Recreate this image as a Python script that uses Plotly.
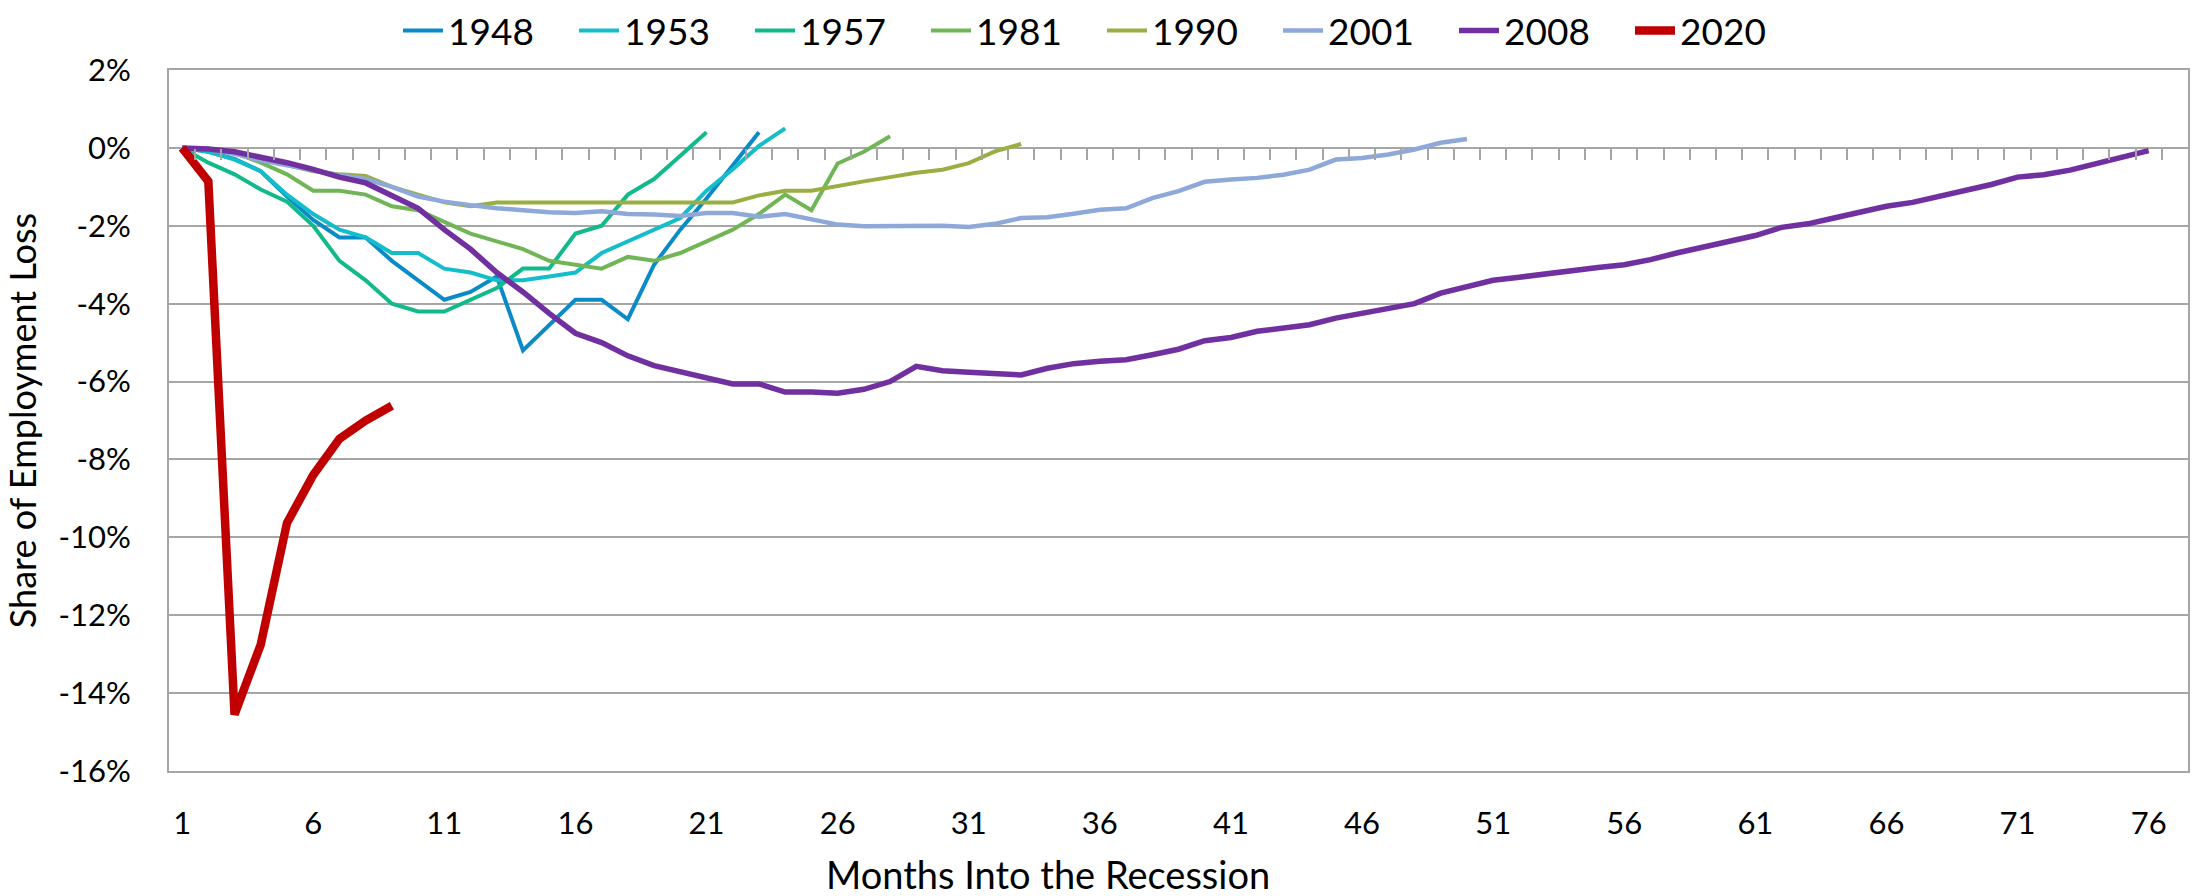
import plotly.graph_objects as go

# share of employment loss (%) by month into the recession
months = list(range(1, 78))

y1948 = [0, -0.1, -0.28, -0.6, -1.25, -1.85, -2.3, -2.3, -2.9, -3.4, -3.9, -3.7, -3.3,
         -5.2, -4.55, -3.9, -3.9, -4.4, -3.0, -2.1, -1.3, -0.45, 0.4]
y1953 = [0, -0.1, -0.3, -0.6, -1.2, -1.7, -2.1, -2.3, -2.7, -2.7, -3.1, -3.2, -3.4,
         -3.4, -3.3, -3.2, -2.7, -2.4, -2.1, -1.8, -1.1, -0.55, 0.05, 0.5]
y1957 = [0, -0.38, -0.68, -1.07, -1.38, -2.0, -2.9, -3.4, -4.0, -4.2, -4.2, -3.9, -3.6,
         -3.1, -3.1, -2.2, -2.0, -1.2, -0.8, -0.2, 0.4]
y1981 = [0, -0.04, -0.13, -0.38, -0.68, -1.1, -1.1, -1.2, -1.5, -1.6, -1.9, -2.2, -2.4,
         -2.6, -2.9, -3.0, -3.1, -2.8, -2.9, -2.7, -2.4, -2.1, -1.7, -1.2, -1.6, -0.4,
         -0.1, 0.3]
y1990 = [0, -0.02, -0.1, -0.27, -0.45, -0.6, -0.68, -0.72, -1.0, -1.2, -1.4, -1.5, -1.4,
         -1.4, -1.4, -1.4, -1.4, -1.4, -1.4, -1.4, -1.4, -1.4, -1.22, -1.1, -1.1, -0.97,
         -0.86, -0.75, -0.64, -0.56, -0.39, -0.09, 0.1]
y2001 = [0, -0.03, -0.15, -0.32, -0.45, -0.58, -0.7, -0.8, -1.0, -1.25, -1.38, -1.47,
         -1.55, -1.6, -1.65, -1.67, -1.63, -1.7, -1.71, -1.75, -1.67, -1.67, -1.77, -1.7,
         -1.84, -1.97, -2.01, -2.01, -2.01, -2.0, -2.03, -1.95, -1.8, -1.78, -1.69, -1.59,
         -1.55, -1.29, -1.11, -0.87, -0.81, -0.77, -0.69, -0.56, -0.3, -0.26, -0.17,
         -0.04, 0.13, 0.23]
y2008 = [0, -0.03, -0.1, -0.23, -0.38, -0.55, -0.75, -0.9, -1.23, -1.55, -2.1, -2.6,
         -3.2, -3.7, -4.25, -4.76, -5.0, -5.34, -5.59, -5.74, -5.89, -6.06, -6.06, -6.27,
         -6.27, -6.3, -6.2, -6.0, -5.61, -5.72, -5.76, -5.78, -5.83, -5.66, -5.54, -5.48,
         -5.44, -5.31, -5.17, -4.95, -4.87, -4.71, -4.63, -4.54, -4.37, -4.24, -4.14,
         -4.0, -3.73, -3.57, -3.4, -3.32, -3.23, -3.17, -3.07, -3.0, -2.87, -2.7, -2.55,
         -2.4, -2.25, -2.04, -1.95, -1.8, -1.65, -1.5, -1.4, -1.24, -1.11, -0.94, -0.75,
         -0.69, -0.57, -0.4, -0.26, -0.07]
y2020 = [0, -0.86, -14.55, -12.75, -9.63, -8.4, -7.47, -7.0, -6.62]

series = [
    ("1948", y1948, "#0A8BC7", 4),
    ("1953", y1953, "#14BDCA", 4),
    ("1957", y1957, "#12B98B", 4),
    ("1981", y1981, "#71B557", 4),
    ("1990", y1990, "#9AAF42", 4),
    ("2001", y2001, "#8EA8DA", 4.5),
    ("2008", y2008, "#7030A0", 5.5),
    ("2020", y2020, "#C00000", 8.5),
]

y_ticks = list(range(-16, 3, 2))
x_ticks = list(range(1, 77, 5))
GRID = "#A6A6A6"
FONT = "Lato"

W, H = 2203, 896
L, R, T, B = 169, 15, 70, 125
plot_h = H - T - B

fig = go.Figure()
for name, vals, color, w in series:
    fig.add_trace(go.Scatter(
        x=months[:len(vals)], y=vals, mode="lines", name=name,
        line=dict(color=color, width=w),
    ))

# carrier trace so the zero-line tick axis gets drawn
fig.add_trace(go.Scatter(x=months, y=[None] * len(months), xaxis="x2",
                         showlegend=False, hoverinfo="skip"))

fig.update_layout(
    width=W, height=H,
    margin=dict(l=L, r=R, t=T, b=B, autoexpand=False),
    plot_bgcolor="white", paper_bgcolor="white",
    font=dict(family=FONT, color="black"),
    legend=dict(orientation="h", xref="container", yref="container",
                x=398 / W, xanchor="left", y=1, yanchor="top",
                font=dict(size=37), entrywidth=121, itemwidth=40,
                bgcolor="rgba(0,0,0,0)"),
    xaxis=dict(
        range=[0.5, 77.5], tickvals=x_ticks, showgrid=False, zeroline=False,
        showline=True, mirror=True, linecolor=GRID, linewidth=2, ticks="",
        tickfont=dict(size=31), ticklabelstandoff=24, automargin=False,
    ),
    xaxis2=dict(
        overlaying="x", anchor="free", position=16 / 18, side="bottom",
        range=[0.5, 77.5], tickvals=[m + 0.5 for m in months[:76]],
        ticks="outside", ticklen=11, tickwidth=2, tickcolor=GRID,
        showticklabels=False, showgrid=False, showline=False, zeroline=False,
    ),
    yaxis=dict(
        range=[-16, 2], tickvals=y_ticks, ticktext=[f"{v}%" for v in y_ticks],
        showgrid=True, gridcolor=GRID, gridwidth=2, zeroline=False,
        showline=True, mirror=True, linecolor=GRID, linewidth=2, ticks="",
        tickfont=dict(size=31), ticklabelstandoff=30, automargin=False,
        title=dict(text="Share of Employment Loss", font=dict(size=36), standoff=21),
    ),
    annotations=[dict(
        text="Months Into the Recession", xref="paper", yref="paper",
        x=(1048 - L) / (W - L - R), y=-(874 - (H - B)) / plot_h,
        xanchor="center", yanchor="middle", showarrow=False,
        font=dict(size=38),
    )],
)

# drop the page's default body margin so the figure sits at the window origin
fig.write_html("out.html", config={"displayModeBar": False},
               post_script="document.body.style.margin='0';")
